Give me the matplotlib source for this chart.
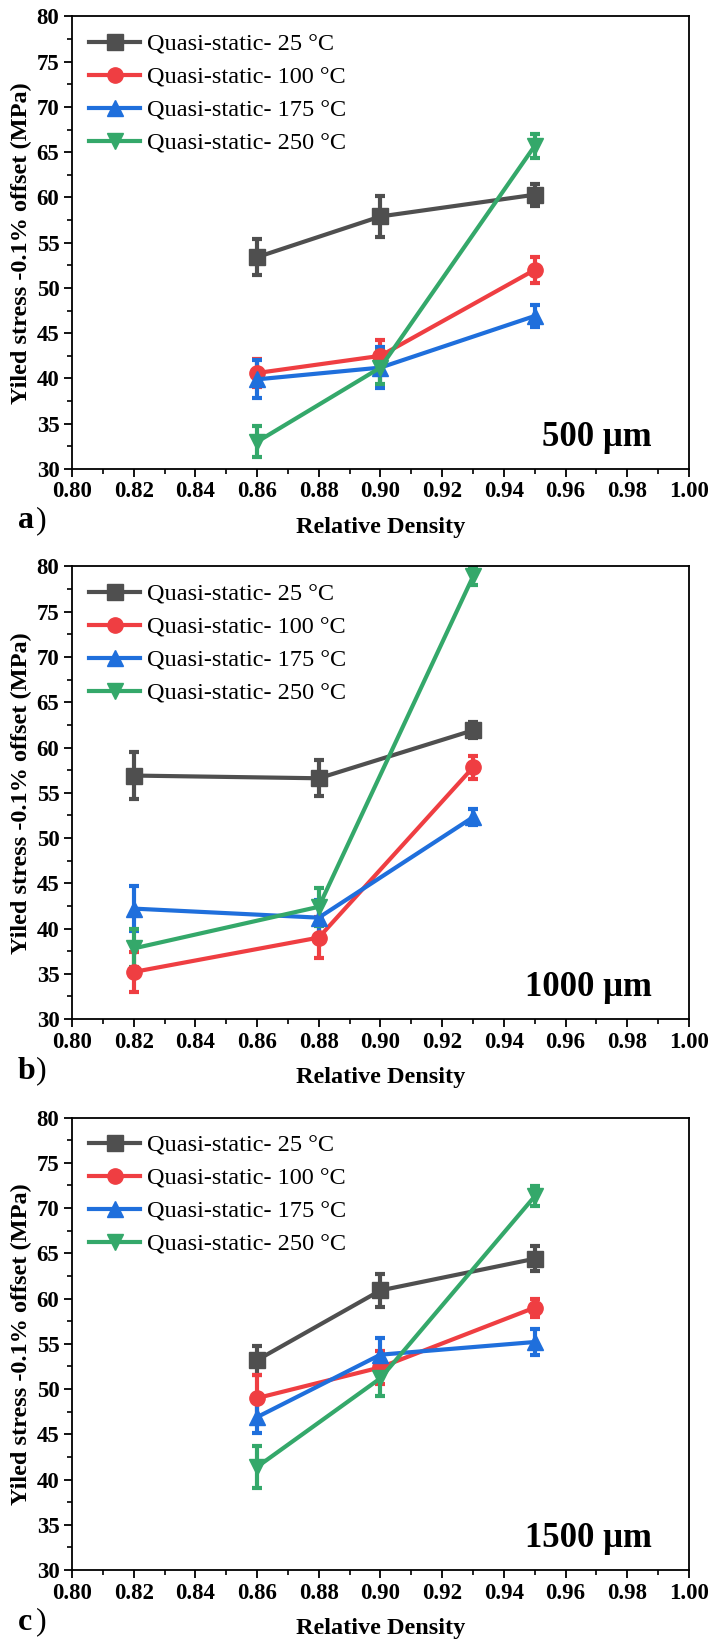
import matplotlib
matplotlib.use('Agg')
import matplotlib.pyplot as plt
from matplotlib.ticker import MultipleLocator, FormatStrFormatter

plt.rcParams['font.family'] = ['Liberation Serif', 'DejaVu Serif']

temps = ['25', '100', '175', '250']
colors = ['#4f4f4f', '#ef3e42', '#1f6fdc', '#34a86a']
markers = ['s', 'o', '^', 'v']

# panel a) 500 um
dens_a = [0.86, 0.90, 0.95]
ys_a = [[53.4, 57.9, 60.3], [40.6, 42.5, 52.0], [39.9, 41.2, 46.9], [33.0, 41.2, 65.7]]
err_a = [[2.0, 2.3, 1.2], [1.6, 1.7, 1.4], [2.1, 2.3, 1.2], [1.7, 1.8, 1.3]]

# panel b) 1000 um
dens_b = [0.82, 0.88, 0.93]
ys_b = [[56.9, 56.6, 61.9], [35.2, 39.0, 57.8], [42.2, 41.2, 52.3], [37.8, 42.4, 78.9]]
err_b = [[2.6, 2.0, 0.9], [2.2, 2.3, 1.3], [2.5, 1.9, 0.9], [2.1, 2.1, 1.0]]

# panel c) 1500 um
dens_c = [0.86, 0.90, 0.95]
ys_c = [[53.2, 60.9, 64.4], [49.0, 52.4, 59.0], [46.9, 53.8, 55.2], [41.4, 51.2, 71.3]]
err_c = [[1.6, 1.8, 1.4], [2.6, 1.8, 1.0], [1.8, 1.8, 1.4], [2.3, 2.0, 1.1]]

sizes = ['500 \u03bcm', '1000 \u03bcm', '1500 \u03bcm']
letters = ['a', 'b', 'c']

fig = plt.figure(figsize=(7.1, 16.42), dpi=100)

bottoms = [0.7144, 0.3794, 0.0438]
panels = [(dens_a, ys_a, err_a), (dens_b, ys_b, err_b), (dens_c, ys_c, err_c)]

for i, (dens, ys, errs) in enumerate(panels):
    ax = fig.add_axes([0.1014, bottoms[i], 0.869, 0.2756])
    handles = []
    labels = []
    for k in range(4):
        c = ax.errorbar(dens, ys[k], yerr=errs[k], color=colors[k], marker=markers[k],
                        ms=11, lw=3, elinewidth=3, capsize=3.5, capthick=3)
        handles.append(c[0])
        labels.append(f'Quasi-static- {temps[k]} \u00b0C')
    ax.set_xlim(0.80, 1.00)
    ax.set_ylim(30, 80)
    ax.xaxis.set_major_locator(MultipleLocator(0.02))
    ax.xaxis.set_minor_locator(MultipleLocator(0.01))
    ax.xaxis.set_major_formatter(FormatStrFormatter('%.2f'))
    ax.yaxis.set_major_locator(MultipleLocator(5))
    ax.yaxis.set_minor_locator(MultipleLocator(2.5))
    ax.tick_params(which='major', direction='out', length=6, width=1.3, labelsize=16.5, pad=3)
    ax.tick_params(which='minor', direction='out', length=3.5, width=1.2)
    for lab in ax.get_xticklabels() + ax.get_yticklabels():
        lab.set_fontweight('bold')
    for sp in ax.spines.values():
        sp.set_linewidth(1.3)
    ax.set_ylabel('Yiled stress -0.1% offset (MPa)', fontsize=17.5, fontweight='bold', va='center')
    ax.yaxis.set_label_coords(-0.082, 0.5)
    ax.set_xlabel('Relative Density', fontsize=17.5, fontweight='bold', va='center')
    ax.xaxis.set_label_coords(0.5, -0.13)
    ax.legend(handles, labels, loc='upper left', fontsize=17.5, frameon=False,
              handlelength=2.1, handletextpad=0.3, labelspacing=0.45,
              borderaxespad=0.3, bbox_to_anchor=(0.0, 1.0))
    ax.text(0.94, 0.07, sizes[i], transform=ax.transAxes, ha='right', va='center',
            fontsize=25, fontweight='bold')
    # panel letter
    yl = bottoms[i] - 52 / 1642
    fig.text(0.025, yl, letters[i], fontsize=23, fontweight='bold', va='center', ha='left')
    fig.text(0.051, yl, ')', fontsize=23, va='center', ha='left')

fig.savefig('out.png', dpi=100)
